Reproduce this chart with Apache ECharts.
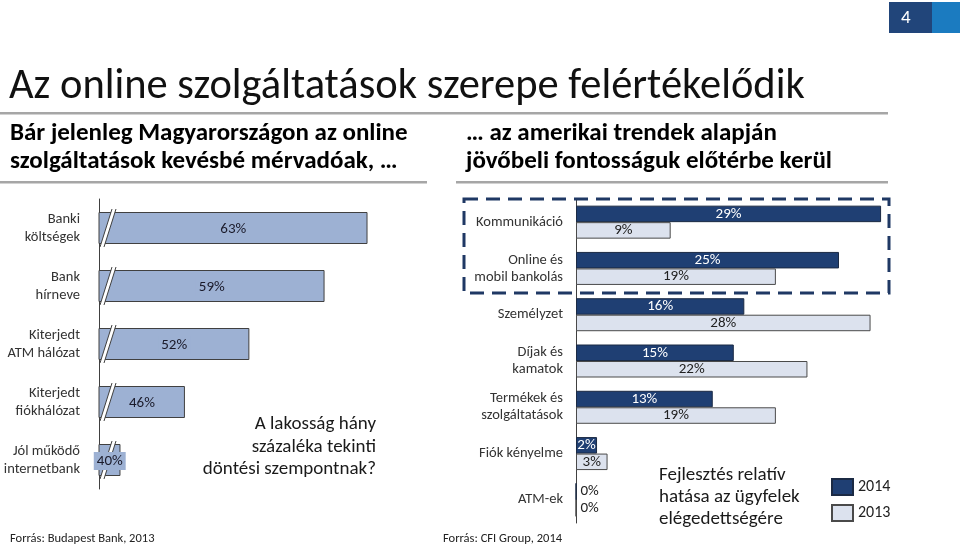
<!DOCTYPE html>
<html><head><meta charset="utf-8">
<script src="https://cdn.jsdelivr.net/npm/echarts@6/dist/echarts.min.js"></script>
<style>html,body{margin:0;padding:0;background:#fff}#c{width:960px;height:546px}</style>
</head><body><div id="c"></div>
<script>
const leftCategories = ['Banki\nköltségek','Bank\nhírneve','Kiterjedt\nATM hálózat','Kiterjedt\nfiókhálózat','Jól működő\ninternetbank'];
const leftValues = [63, 59, 52, 46, 40];
const rightCategories = ['Kommunikáció','Online és\nmobil bankolás','Személyzet','Díjak és\nkamatok','Termékek és\nszolgáltatások','Fiók kényelme','ATM-ek'];
const values2014 = [29, 25, 16, 15, 13, 2, 0];
const values2013 = [9, 19, 28, 22, 19, 3, 0];
const seriesNames = ['2014', '2013'];

const FONT = 'Carlito, Calibri, Lato, sans-serif';
const LEFT_MIN = 38, LEFT_MAX = 65;
const leftFill = '#9DB1D3';
const navy = '#1F3F73';
const light = '#DCE2EE';

const chart = echarts.init(document.getElementById('c'), null, {renderer: 'canvas'});

function txt(text, x, y, size, opts) {
  return Object.assign({
    type: 'text', x: x, y: y, silent: true,
    style: Object.assign({text: text, font: (opts && opts.bold ? 'bold ' : '') + size + 'px ' + FONT,
      fill: '#000', align: 'left', verticalAlign: 'middle'}, opts && opts.style)
  }, opts && opts.el);
}

const option = {
  backgroundColor: '#fff',
  animation: false,
  textStyle: {fontFamily: FONT},
  grid: [
    {left: 99, top: 199, width: 290, height: 290},
    {left: 576, top: 199, width: 315.6, height: 324}
  ],
  xAxis: [
    {gridIndex: 0, type: 'value', min: LEFT_MIN, max: LEFT_MAX, show: false},
    {gridIndex: 1, type: 'value', min: 0, max: 30, show: false}
  ],
  yAxis: [
    {gridIndex: 0, type: 'category', data: leftCategories, inverse: true,
      axisTick: {show: false}, axisLine: {lineStyle: {color: '#404040', width: 1}},
      axisLabel: {fontFamily: FONT, fontSize: 14.5, color: '#333', lineHeight: 18, margin: 19}},
    {gridIndex: 1, type: 'category', data: rightCategories, inverse: true,
      axisTick: {show: false}, axisLine: {lineStyle: {color: '#404040', width: 1}},
      axisLabel: {fontFamily: FONT, fontSize: 14.5, color: '#333', lineHeight: 17, margin: 13}}
  ],
  legend: {
    data: seriesNames, orient: 'vertical', left: 831, top: 478, padding: 0,
    itemWidth: 21, itemHeight: 16, itemGap: 8, icon: 'rect',
    textStyle: {fontFamily: FONT, fontSize: 16, color: '#222'}
  },
  series: [
    {type: 'bar', xAxisIndex: 0, yAxisIndex: 0, data: leftValues, barWidth: 32, z: 2,
      itemStyle: {color: leftFill, borderColor: '#404040', borderWidth: 1}, silent: true},
    {type: 'custom', xAxisIndex: 0, yAxisIndex: 0, z: 3, silent: true,
      data: leftValues.map((v, i) => [v, i]),
      encode: {x: 0, y: 1},
      renderItem: function (params, api) {
        const v = api.value(0), ci = api.value(1);
        const s = api.coord([LEFT_MIN, ci]);
        const e = api.coord([v, ci]);
        const h = 16;
        const yb = s[1] + h + 3, yt = s[1] - h - 3;
        const x0 = s[0];
        const children = [];
        children.push({type: 'polygon', shape: {points: [[x0 + 1, yb], [x0 + 13, yt], [x0 + 17, yt], [x0 + 5, yb]]},
          style: {fill: '#fff'}});
        children.push({type: 'line', shape: {x1: x0 + 1, y1: yb, x2: x0 + 13, y2: yt}, style: {stroke: '#404040', lineWidth: 1}});
        children.push({type: 'line', shape: {x1: x0 + 5, y1: yb, x2: x0 + 17, y2: yt}, style: {stroke: '#404040', lineWidth: 1}});
        children.push({type: 'text', z2: 10, x: (s[0] + e[0]) / 2, y: s[1] + 1,
          style: {text: v + '%', font: '15px ' + FONT, fill: '#1a1a2a', align: 'center', verticalAlign: 'middle',
            backgroundColor: leftFill, padding: [2, 3, 1, 3]}});
        return {type: 'group', children: children};
      }
    },
    {name: seriesNames[0], type: 'bar', xAxisIndex: 1, yAxisIndex: 1, barWidth: 16.5, barGap: '0%',
      data: values2014.map(v => v === 0 ? {value: v, label: {position: 'right', color: '#222', distance: 4}} : v),
      itemStyle: {color: navy, borderColor: '#1b2a44', borderWidth: 1},
      label: {show: true, position: 'inside', formatter: '{c}%', color: '#fff', fontFamily: FONT, fontSize: 15}},
    {name: seriesNames[1], type: 'bar', xAxisIndex: 1, yAxisIndex: 1, barWidth: 16.5, barGap: '0%',
      data: values2013.map(v => v === 0 ? {value: v, label: {position: 'right', color: '#222', distance: 4}} : v),
      itemStyle: {color: light, borderColor: '#4a4a4a', borderWidth: 1},
      label: {show: true, position: 'inside', formatter: '{c}%', color: '#222', fontFamily: FONT, fontSize: 15}}
  ],
  graphic: [
    {type: 'rect', shape: {x: 889, y: 2, width: 43, height: 31}, style: {fill: '#21457A'}, silent: true},
    {type: 'rect', shape: {x: 932, y: 2, width: 28, height: 31}, style: {fill: '#1B7BC0'}, silent: true},
    txt('4', 901, 18, 19, {style: {fill: '#fff'}}),
    txt('Az online szolgáltatások szerepe felértékelődik', 9, 87, 42.5, {style: {fill: '#111'}}),
    {type: 'rect', shape: {x: 0, y: 112, width: 888, height: 2.5}, style: {fill: '#A6A6A6'}, silent: true},
    txt('Bár jelenleg Magyarországon az online', 10, 134, 25, {bold: true}),
    txt('szolgáltatások kevésbé mérvadóak, …', 10, 162, 25, {bold: true}),
    txt('… az amerikai trendek alapján', 466, 134, 25, {bold: true}),
    txt('jövőbeli fontosságuk előtérbe kerül', 466, 162, 25, {bold: true}),
    {type: 'rect', shape: {x: 0, y: 181, width: 427, height: 2.5}, style: {fill: '#A6A6A6'}, silent: true},
    {type: 'rect', shape: {x: 456, y: 181, width: 432, height: 2.5}, style: {fill: '#A6A6A6'}, silent: true},
    txt('A lakosság hány\nszázaléka tekinti\ndöntési szempontnak?', 376, 447, 19,
      {style: {align: 'right', lineHeight: 22.5, fill: '#1a1a1a'}}),
    txt('Fejlesztés relatív\nhatása az ügyfelek\nelégedettségére', 659, 497, 19,
      {style: {align: 'left', lineHeight: 22, fill: '#1a1a1a'}}),
    txt('Forrás: Budapest Bank, 2013', 10, 539, 12.5, {style: {fill: '#222'}}),
    txt('Forrás: CFI Group, 2014', 443, 539, 12.5, {style: {fill: '#222'}}),
    {type: 'rect', z: 10, silent: true, shape: {x: 464, y: 199, width: 425, height: 94},
      style: {fill: 'none', stroke: '#1F3864', lineWidth: 3, lineDash: [14, 8]}}
  ]
};
chart.setOption(option);
</script></body></html>
